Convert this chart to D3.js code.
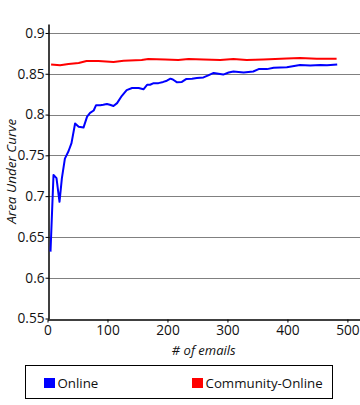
<!DOCTYPE html>
<html><head><meta charset="utf-8">
<script src="https://cdn.jsdelivr.net/npm/d3@7"></script>
<style>
html,body{margin:0;padding:0;background:#fff;}
svg{display:block;font-family:"Open Sans","Noto Sans",sans-serif;}
</style></head>
<body><svg id="c" width="360" height="405"></svg>
<script>
const onlineX = [5,10,15,20,24,29,35,40,46,52,60,66,71,77,81,88,93,99,104,110,116,124,132,141,152,160,166,171,177,185,193,199,205,209,216,224,231,241,249,260,268,277,285,293,302,310,327,343,352,366,377,399,421,438,455,466,483];
const onlineY = [0.632,0.726,0.722,0.693,0.722,0.746,0.755,0.765,0.789,0.785,0.784,0.7975,0.802,0.805,0.8115,0.8115,0.812,0.813,0.812,0.8105,0.814,0.823,0.830,0.8325,0.8325,0.831,0.8365,0.8365,0.8385,0.8385,0.840,0.8415,0.844,0.843,0.8395,0.840,0.8435,0.844,0.8447,0.8455,0.848,0.851,0.850,0.849,0.8515,0.8528,0.8515,0.8528,0.8557,0.8557,0.8573,0.858,0.8607,0.860,0.8607,0.8603,0.8615];
const communityX = [6,21,35,52,65,85,110,127,157,168,196,218,235,260,288,310,332,360,399,421,449,482];
const communityY = [0.8614,0.8603,0.862,0.8631,0.8656,0.8656,0.8643,0.866,0.8668,0.868,0.8676,0.8668,0.868,0.8676,0.867,0.868,0.867,0.8676,0.8688,0.8692,0.8684,0.8684];
const xTicks = [0,100,200,300,400,500];
const yTicks = [0.55,0.6,0.65,0.7,0.75,0.8,0.85,0.9];
const seriesNames = ["Online","Community-Online"];
const seriesColors = ["#0000ff","#ff0000"];

const svg = d3.select("#c");
const x = d3.scaleLinear().domain([0,521]).range([47.5,360]);
const y = d3.scaleLinear().domain([0.55,0.911]).range([318.5,24]);

// gridlines
svg.append("g").selectAll("line").data(yTicks.filter(d=>d>0.55)).join("line")
  .attr("x1",x(0)).attr("x2",360).attr("y1",d=>Math.round(y(d))+0.5).attr("y2",d=>Math.round(y(d))+0.5)
  .attr("stroke","#808080").attr("stroke-width",1);

// axes
const xAxis = d3.axisBottom(x).tickValues(xTicks).tickFormat(d3.format("d")).tickSize(3).tickSizeOuter(0);
const yAxis = d3.axisLeft(y).tickValues(yTicks).tickFormat(d=>String(d)).tickSize(3).tickSizeOuter(0);
const gx = svg.append("g").attr("transform",`translate(0,${Math.round(y(0.55))+0.5})`).call(xAxis);
const gy = svg.append("g").attr("transform",`translate(${Math.round(x(0))+0.5},0)`).call(yAxis);
[gx,gy].forEach(g=>{
  g.select(".domain").attr("stroke","#000").attr("stroke-width",1.5);
  g.selectAll(".tick line").attr("stroke","#000");
  g.selectAll("text").attr("fill","#111").style("font-size","13.7px").style("font-family",'"Open Sans",sans-serif');
});
gx.selectAll("text").attr("dy","0.72em");
gy.selectAll("text").attr("dx","0.15em");

// lines
const line = d3.line().x(d=>x(d[0])).y(d=>y(d[1]));
const onlineData = onlineX.map((v,i)=>[v,onlineY[i]]);
const communityData = communityX.map((v,i)=>[v,communityY[i]]);
svg.append("path").datum(communityData).attr("d",line).attr("fill","none").attr("stroke",seriesColors[1]).attr("stroke-width",2).attr("stroke-linejoin","round");
svg.append("path").datum(onlineData).attr("d",line).attr("fill","none").attr("stroke",seriesColors[0]).attr("stroke-width",2).attr("stroke-linejoin","round");

// axis titles
svg.append("text").attr("x",(x(0)+360)/2).attr("y",355).attr("text-anchor","middle")
  .style("font-size","13px").style("font-style","italic").attr("fill","#111").text("# of emails");
svg.append("text").attr("transform",`translate(16,${(24+318.5)/2}) rotate(-90)`).attr("text-anchor","middle")
  .style("font-size","13.5px").style("font-style","italic").attr("fill","#111").text("Area Under Curve");

// legend
svg.append("rect").attr("x",25.5).attr("y",365.5).attr("width",307).attr("height",33).attr("fill","#fff").attr("stroke","#000").attr("stroke-width",1);
const legX = [44,192];
seriesNames.forEach((n,i)=>{
  svg.append("rect").attr("x",legX[i]).attr("y",378).attr("width",11).attr("height",10).attr("fill",seriesColors[i]);
  svg.append("text").attr("x",legX[i]+13.5).attr("y",388).style("font-size","13.3px").attr("fill","#111").text(n);
});
</script></body></html>
